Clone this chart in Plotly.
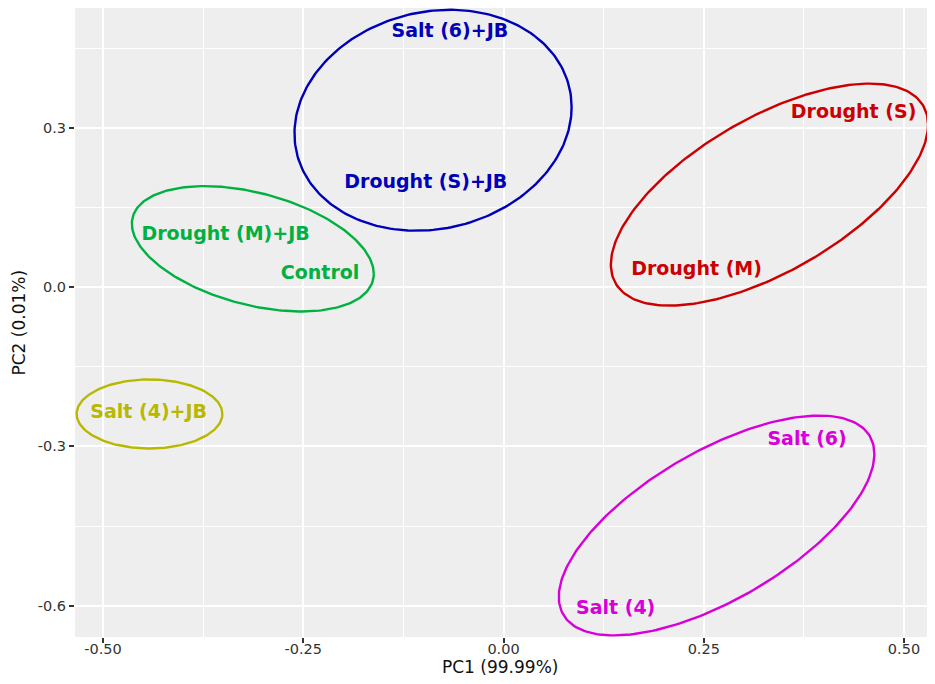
"""PCA plot: PC1 x PC2 with cluster ellipses and treatment labels."""

import numpy as np
import plotly.graph_objects as go

# ---------- data ----------
# ellipse per cluster: centre, half-width (x), half-height (y), tilt (-1..1)
CLUSTER = ["green", "blue", "red", "magenta", "yellow"]
CLUSTER_COLOR = {
    "green":   "#00B040",
    "blue":    "#0000B8",
    "red":     "#CC0000",
    "magenta": "#D800D8",
    "yellow":  "#B8B800",
}
ELL_CX    = [-0.313, -0.088, 0.332, 0.266, -0.442]
ELL_CY    = [0.072, 0.314, 0.174, -0.449, -0.239]
ELL_HALFW = [0.151, 0.173, 0.198, 0.197, 0.091]
ELL_HALFH = [0.118, 0.208, 0.209, 0.207, 0.065]
ELL_TILT  = [-0.40, 0.12, 0.63, 0.65, 0.0]

LABEL   = ["Drought (M)+JB", "Control", "Salt (6)+JB", "Drought (S)+JB",
           "Drought (S)", "Drought (M)", "Salt (6)", "Salt (4)", "Salt (4)+JB"]
LABEL_X = [-0.347, -0.229, -0.067, -0.097, 0.437, 0.241, 0.379, 0.140, -0.443]
LABEL_Y = [0.097, 0.025, 0.480, 0.196, 0.327, 0.031, -0.289, -0.606, -0.238]
LABEL_CLUSTER = ["green", "green", "blue", "blue", "red", "red",
                 "magenta", "magenta", "yellow"]

X_TICKS = [-0.50, -0.25, 0.00, 0.25, 0.50]
X_TICKTEXT = ["-0.50", "-0.25", "0.00", "0.25", "0.50"]
Y_TICKS = [-0.6, -0.3, 0.0, 0.3]
Y_TICKTEXT = ["-0.6", "-0.3", "0.0", "0.3"]

FONT = "DejaVu Sans, sans-serif"

# ---------- figure ----------
fig = go.Figure()

t = np.linspace(0, 2 * np.pi, 241)
for name, cx, cy, hw, hh, tilt in zip(CLUSTER, ELL_CX, ELL_CY, ELL_HALFW, ELL_HALFH, ELL_TILT):
    phase = np.arccos(tilt)
    fig.add_trace(go.Scatter(
        x=cx + hw * np.cos(t),
        y=cy + hh * np.cos(t - phase),
        mode="lines",
        line=dict(color=CLUSTER_COLOR[name], width=2.4),
        hoverinfo="skip",
    ))

fig.add_trace(go.Scatter(
    x=LABEL_X,
    y=LABEL_Y,
    text=LABEL,
    mode="text",
    textposition="middle center",
    textfont=dict(family=FONT, size=19, weight="bold",
                  color=[CLUSTER_COLOR[c] for c in LABEL_CLUSTER]),
    hoverinfo="text",
))

axis_common = dict(
    showgrid=True, gridcolor="#FFFFFF", gridwidth=1.6,
    zeroline=False, showline=False, automargin=False,
    ticks="outside", ticklen=5, tickwidth=1.5, tickcolor="#333333",
    tickfont=dict(family=FONT, size=14.5, color="#333333"),
)

fig.update_xaxes(
    **axis_common,
    range=[-0.535, 0.5287],
    tickvals=X_TICKS, ticktext=X_TICKTEXT,
    ticklabelstandoff=-6,
    minor=dict(tickvals=[-0.375, -0.125, 0.125, 0.375], showgrid=True,
               gridcolor="#FFFFFF", gridwidth=0.8, ticks=""),
)
fig.update_yaxes(
    **axis_common,
    range=[-0.659, 0.5254],
    tickvals=Y_TICKS, ticktext=Y_TICKTEXT,
    minor=dict(tickvals=[-0.45, -0.15, 0.15, 0.45], showgrid=True,
               gridcolor="#FFFFFF", gridwidth=0.8, ticks=""),
)

# axis titles as annotations (placed like ggplot's)
title_font = dict(family=FONT, size=17, color="#111111")
fig.add_annotation(text="PC1 (99.99%)", xref="paper", yref="paper",
                   x=0.5, y=0, yshift=-30, xshift=-1, yanchor="middle",
                   showarrow=False, font=title_font)
fig.add_annotation(text="PC2 (0.01%)", xref="paper", yref="paper",
                   x=0, y=0.5, xshift=-57, xanchor="center", textangle=-90,
                   showarrow=False, font=title_font)

# page body adds 8px around the figure, so size it to fit the window
fig.update_layout(
    width=919, height=668,
    margin=dict(l=67, r=0, t=0, b=39),
    plot_bgcolor="#EEEEEE",
    paper_bgcolor="#FFFFFF",
    showlegend=False,
)

fig.write_html("out.html")
